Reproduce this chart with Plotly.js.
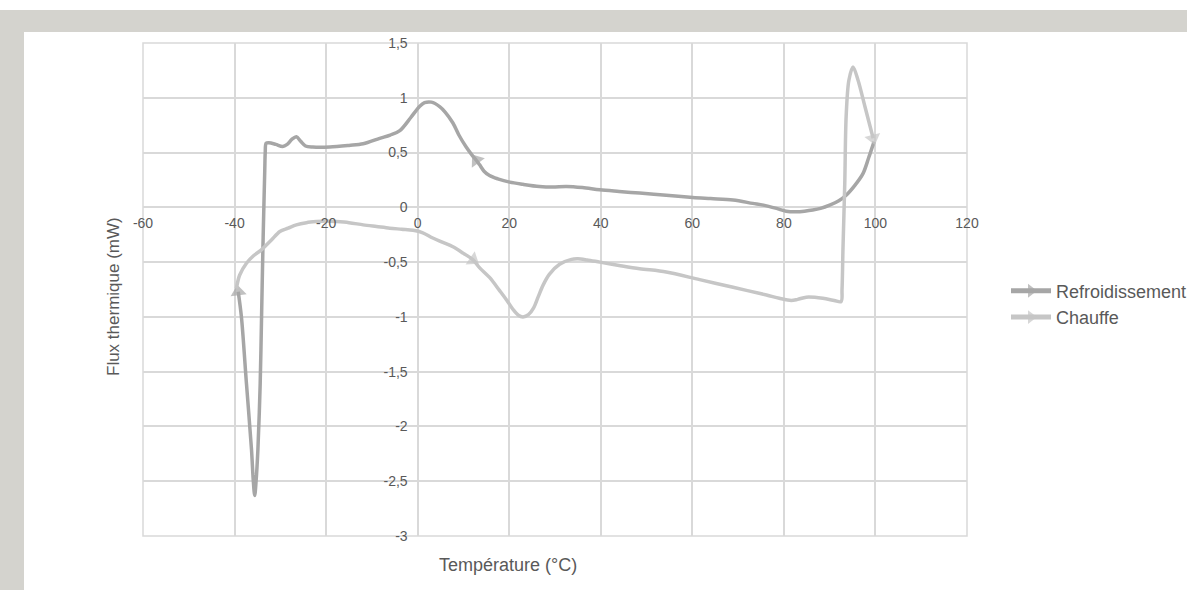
<!DOCTYPE html>
<html><head><meta charset="utf-8">
<script src="https://cdn.plot.ly/plotly-3.0.1.min.js"></script>
<style>
html,body{margin:0;padding:0;background:#fff;}
#wrap{position:relative;width:1187px;height:590px;overflow:hidden;background:#fff;}
#topband{position:absolute;left:0;top:10px;width:1187px;height:22px;background:#d4d3ce;}
#leftband{position:absolute;left:0;top:10px;width:24px;height:580px;background:#d4d3ce;}
#chart{position:absolute;left:0;top:0;width:1187px;height:590px;}
</style></head><body>
<div id="wrap"><div id="topband"></div><div id="leftband"></div><div id="chart"></div></div>
<script>
// ---- data ----
const seriesNames = ["Refroidissement", "Chauffe"];

// Refroidissement (cooling), in the order the curve is traced (from 100 °C downwards)
const coolT = [99.7, 98.5, 97.3, 95.5, 93.6, 92, 90, 88, 86.3, 84.5, 82.7, 80.5, 78.4, 75.5, 73.2, 68.9, 64, 60.1, 54.3, 48.5, 44, 39.8, 36, 32.5, 29.5, 26.6, 23, 20.1, 17.5, 15.7, 14.5, 13.5, 12.8, 12, 10.6, 9, 7.7, 6, 4.8, 3.0, 1.5, 0.4, -1.5, -3.9, -6, -8.3, -11.9, -15, -19.2, -22.9, -24.5, -25.5, -26.5, -27.5, -28.5, -29.5, -31, -32.5, -33.1, -33.3, -33.4, -33.6, -33.8, -34.1, -34.4, -34.9, -35.3, -35.6, -35.9, -36.3, -37.4, -38.5, -39.2];
const coolF = [0.60, 0.45, 0.31, 0.20, 0.11, 0.06, 0.02, -0.01, -0.025, -0.035, -0.04, -0.035, -0.01, 0.02, 0.036, 0.067, 0.08, 0.09, 0.11, 0.13, 0.145, 0.16, 0.18, 0.19, 0.185, 0.19, 0.21, 0.23, 0.26, 0.29, 0.33, 0.39, 0.43, 0.47, 0.55, 0.66, 0.77, 0.87, 0.92, 0.96, 0.955, 0.92, 0.82, 0.70, 0.66, 0.63, 0.58, 0.565, 0.55, 0.55, 0.56, 0.60, 0.645, 0.62, 0.575, 0.555, 0.575, 0.59, 0.585, 0.5, 0.34, 0.0, -0.36, -1.0, -1.61, -2.21, -2.5, -2.63, -2.5, -2.21, -1.61, -1.0, -0.77];
const coolArrowAt = [12.8, -39.2];

// Chauffe (heating), in the order the curve is traced (from -40 °C upwards)
const heatT = [-39.6, -38.9, -37.4, -35.8, -34.2, -32, -30.1, -28.3, -26.5, -24.3, -22.1, -20, -17.8, -15, -11.9, -9, -6.1, -3.5, -1.0, 1.0, 3.3, 5.5, 7.7, 10, 12.1, 13.5, 15.7, 17.9, 19.5, 20.8, 22, 23.0, 24.2, 25.3, 26.3, 27.4, 28.8, 31, 33.6, 35, 37, 39.8, 44, 48.5, 54.3, 61.6, 68.9, 76.2, 79, 81.6, 83, 84.9, 88.5, 91, 92.5, 92.7, 92.9, 93.3, 93.6, 94.2, 95.1, 96.2, 97.7, 99.5];
const heatF = [-0.74, -0.62, -0.51, -0.44, -0.39, -0.30, -0.22, -0.19, -0.16, -0.14, -0.13, -0.125, -0.13, -0.14, -0.16, -0.175, -0.19, -0.2, -0.21, -0.23, -0.28, -0.32, -0.36, -0.42, -0.48, -0.55, -0.64, -0.76, -0.85, -0.93, -0.985, -1.00, -0.98, -0.92, -0.82, -0.71, -0.61, -0.52, -0.475, -0.47, -0.48, -0.50, -0.53, -0.56, -0.59, -0.66, -0.73, -0.80, -0.83, -0.85, -0.84, -0.82, -0.83, -0.85, -0.86, -0.75, -0.39, 0.22, 0.83, 1.16, 1.28, 1.16, 0.92, 0.63];
const heatArrowAt = [12.1, 99.5];

const xTickVals = [-60, -40, -20, 0, 20, 40, 60, 80, 100, 120];
const xTickText = ["-60", "-40", "-20", "0", "20", "40", "60", "80", "100", "120"];
const yTickVals = [1.5, 1, 0.5, 0, -0.5, -1, -1.5, -2, -2.5, -3];
const yTickText = ["1,5", "1", "0,5", "0", "-0,5", "-1", "-1,5", "-2", "-2,5", "-3"];
const xTitle = "Température (°C)";
const yTitle = "Flux thermique (mW)";

// ---- chart ----
const xRange = [-60, 120], yRange = [-3, 1.5];
const coolColor = "#a6a6a6", heatColor = "#c6c6c6";
const ARROW = 14;
const arrowSizes = (xs, at, s) => xs.map(v => at.includes(v) ? s : 0);

const traces = [
  {
    x: coolT, y: coolF, name: seriesNames[0], type: "scatter", mode: "lines+markers",
    line: {color: coolColor, width: 3.5, shape: "spline", smoothing: 0.9},
    marker: {symbol: "triangle-up", angleref: "previous", size: arrowSizes(coolT, coolArrowAt, ARROW), color: coolColor, line: {width: 0}},
    hoverinfo: "x+y"
  },
  {
    x: heatT, y: heatF, name: seriesNames[1], type: "scatter", mode: "lines+markers",
    line: {color: heatColor, width: 3.5, shape: "spline", smoothing: 0.9},
    marker: {symbol: "triangle-up", angleref: "previous", size: arrowSizes(heatT, heatArrowAt, ARROW), color: heatColor, line: {width: 0}},
    hoverinfo: "x+y"
  }
];

const gridC = "#d9d9d9";
const tickFont = {family: "Liberation Sans, Arial, sans-serif", size: 14, color: "#595959"};
const layout = {
  width: 1187, height: 590,
  margin: {l: 143, r: 220, t: 43, b: 54, pad: 0, autoexpand: false},
  paper_bgcolor: "rgba(0,0,0,0)", plot_bgcolor: "rgba(0,0,0,0)",
  font: {family: "Liberation Sans, Arial, sans-serif", color: "#595959"},
  showlegend: true,
  legend: {x: (1006 - 143) / 824, xanchor: "left", y: (536 - 272.5) / 493, yanchor: "top",
           font: {size: 18, color: "#595959"}, bgcolor: "rgba(0,0,0,0)", itemsizing: "constant",
           itemwidth: 40, tracegroupgap: 0},
  xaxis: {
    range: xRange, tickmode: "array", tickvals: xTickVals, ticktext: xTickText,
    anchor: "free", position: (0 - yRange[0]) / (yRange[1] - yRange[0]),
    showgrid: true, gridcolor: gridC, gridwidth: 1.5,
    zeroline: true, zerolinecolor: gridC, zerolinewidth: 1.5,
    showline: false, ticks: "", tickfont: tickFont, ticklabelstandoff: 6, fixedrange: true
  },
  yaxis: {
    range: yRange, tickmode: "array", tickvals: yTickVals, ticktext: yTickText,
    anchor: "free", position: (0 - xRange[0]) / (xRange[1] - xRange[0]),
    showgrid: true, gridcolor: gridC, gridwidth: 1.5,
    zeroline: true, zerolinecolor: gridC, zerolinewidth: 1.5,
    showline: false, ticks: "", tickfont: tickFont, ticklabelstandoff: 10, fixedrange: true
  },
  shapes: [{type: "rect", xref: "paper", yref: "paper", x0: 0, x1: 1, y0: 0, y1: 1,
            line: {color: gridC, width: 1.5}, layer: "below"}],
  annotations: [
    {text: xTitle, xref: "paper", yref: "paper", x: (508 - 143) / 824, y: (536 - 565) / 493,
     xanchor: "center", yanchor: "middle", showarrow: false, font: {size: 18, color: "#595959"}},
    {text: yTitle, xref: "paper", yref: "paper", x: (113 - 143) / 824, y: (536 - 297) / 493,
     xanchor: "center", yanchor: "middle", textangle: -90, showarrow: false, font: {size: 17, color: "#595959"}}
  ]
};

Plotly.newPlot("chart", traces, layout, {displayModeBar: false});
</script>
</body></html>
